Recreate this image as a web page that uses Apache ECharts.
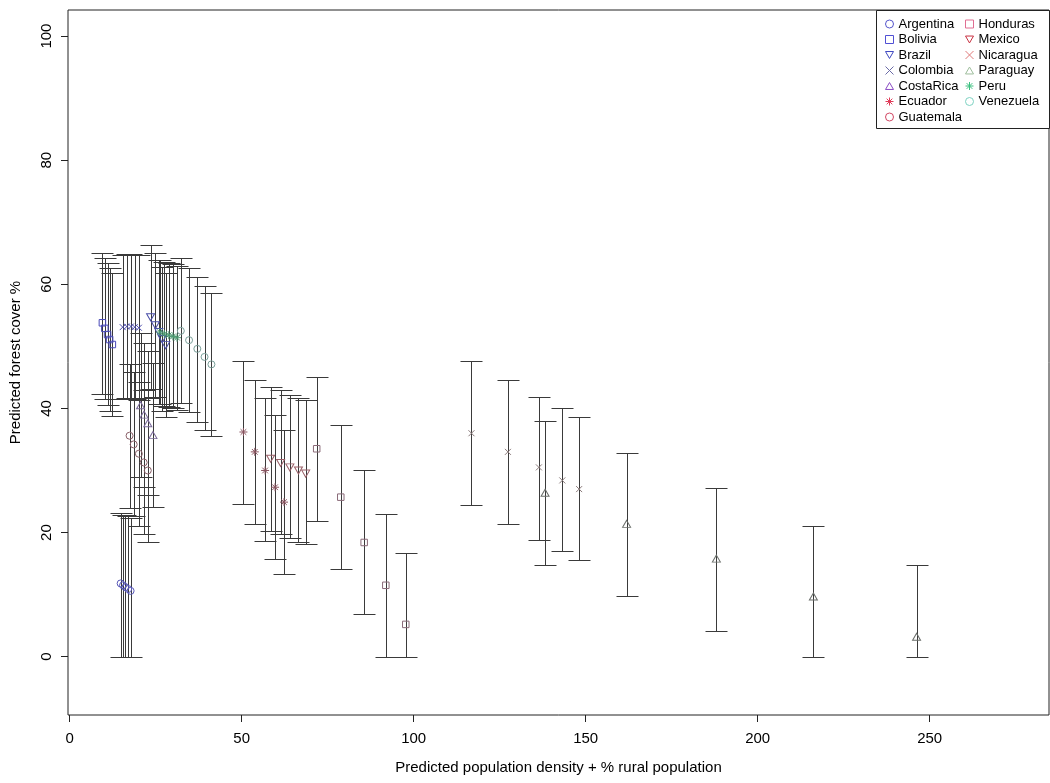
<!DOCTYPE html>
<html>
<head>
<meta charset="utf-8">
<script src="https://cdn.jsdelivr.net/npm/echarts@6/dist/echarts.min.js"></script>
<style>
  html, body { margin: 0; padding: 0; background: #fff; }
  #chart { width: 1050px; height: 783px; }
</style>
</head>
<body>
<div id="chart"></div>
<script>
// Each row: [population index, predicted forest cover %, lower bound, upper bound]
const argentina = [[14.8, 11.8, 0, 23.2], [15.5, 11.5, 0, 22.9], [16.2, 11.2, 0, 22.8], [17.0, 10.9, 0, 22.6], [17.7, 10.6, 0, 22.4]];
const bolivia   = [[9.5, 53.8, 42.3, 65.1], [10.2, 52.9, 41.5, 64.3], [11.0, 51.9, 40.5, 63.4], [11.6, 51.1, 39.6, 62.6], [12.4, 50.3, 38.8, 61.9]];
const brazil    = [[23.5, 54.7, 43.1, 66.3], [24.9, 53.4, 41.8, 65.0], [25.9, 52.3, 40.7, 63.9], [26.9, 51.2, 39.6, 62.8], [27.9, 50.2, 38.6, 61.8]];
const colombia  = [[15.4, 53.1, 41.5, 64.8], [16.6, 53.2, 41.6, 64.9], [17.8, 53.2, 41.6, 64.9], [18.9, 53.1, 41.5, 64.8], [20.1, 53.0, 41.4, 64.7]];
const costaRica = [[20.6, 40.5, 28.9, 52.1], [21.6, 39.0, 27.4, 50.6], [22.7, 37.6, 26.0, 49.2], [24.2, 35.7, 24.1, 47.3]];
const ecuador   = [[50.5, 36.2, 24.6, 47.7], [53.8, 33.0, 21.4, 44.5], [56.8, 30.0, 18.7, 41.6], [59.7, 27.3, 15.8, 38.9], [62.3, 24.9, 13.4, 36.6]];
const guatemala = [[17.4, 35.6, 24.0, 47.2], [18.6, 34.2, 22.6, 45.8], [20.1, 32.7, 21.1, 44.3], [21.5, 31.3, 19.7, 42.9], [22.7, 30.0, 18.4, 41.6]];
const honduras  = [[71.8, 33.5, 21.9, 45.1], [78.8, 25.7, 14.1, 37.3], [85.6, 18.4, 6.8, 30.0], [91.9, 11.5, 0, 23.0], [97.7, 5.2, 0, 16.7]];
const mexico    = [[58.4, 31.9, 20.3, 43.4], [61.3, 31.2, 19.7, 42.9], [64.0, 30.5, 19.1, 42.2], [66.5, 30.0, 18.5, 41.6], [68.6, 29.5, 18.1, 41.3]];
const nicaragua = [[116.8, 36.0, 24.5, 47.6], [127.4, 33.0, 21.4, 44.5], [136.4, 30.5, 18.8, 41.9], [143.2, 28.4, 17.0, 40.0], [148.1, 27.0, 15.6, 38.6]];
const paraguay  = [[138.2, 26.4, 14.8, 38.0], [161.9, 21.4, 9.7, 32.8], [188.0, 15.8, 4.1, 27.2], [216.2, 9.7, 0, 21.1], [246.2, 3.2, 0, 14.7]];
const peru      = [[26.2, 52.3, 40.7, 63.9], [27.5, 52.0, 40.4, 63.6], [28.8, 51.8, 40.2, 63.4], [30.0, 51.6, 40.0, 63.2], [31.2, 51.4, 39.8, 63.0]];
const venezuela = [[32.3, 52.5, 40.8, 64.2], [34.7, 51.0, 39.4, 62.6], [37.1, 49.6, 37.8, 61.2], [39.2, 48.3, 36.5, 59.8], [41.2, 47.1, 35.5, 58.6]];

const countryNames = ['Argentina', 'Bolivia', 'Brazil', 'Colombia', 'CostaRica', 'Ecuador', 'Guatemala',
                      'Honduras', 'Mexico', 'Nicaragua', 'Paraguay', 'Peru', 'Venezuela'];
const countryRows = [argentina, bolivia, brazil, colombia, costaRica, ecuador, guatemala,
                     honduras, mexico, nicaragua, paraguay, peru, venezuela];

const xTicks = [0, 50, 100, 150, 200, 250];
const yTicks = [0, 20, 40, 60, 80, 100];
const xTitle = 'Predicted population density + % rural population';
const yTitle = 'Predicted forest cover %';

// Marker shapes cycle: circle, square, down-triangle, cross, up-triangle, asterisk
const SHAPES = {
  circle: { symbol: 'circle', size: 7 },
  square: { symbol: 'rect', size: 6.5 },
  down:   { symbol: 'path://M0,0L10,0L5,8.66Z', size: [8, 7] },
  cross:  { symbol: 'path://M0,0L10,10M10,0L0,10', size: 6 },
  up:     { symbol: 'path://M5,0L10,8.66L0,8.66Z', size: [8, 7] },
  star:   { symbol: 'path://M5,0L5,10M0,5L10,5M1.46,1.46L8.54,8.54M8.54,1.46L1.46,8.54', size: 8 }
};
const shapeCycle = ['circle', 'square', 'down', 'cross', 'up', 'star'];
// key colours (legend) and the softer tones the markers take inside the plot
const keyColors  = ['#5656cc', '#5050d4', '#3c46c0', '#6a6aa6', '#8a4cc4', '#e03c5a', '#d24864',
                    '#e06e92', '#c83040', '#e07a7a', '#9ebe9c', '#3cc080', '#7ed2c2'];
const markColors = ['#5858b8', '#4a4ab8', '#4a4fa8', '#4c4cac', '#7a6a9a', '#8a5560', '#8a6068',
                    '#8a6a78', '#9a6068', '#8a7a7a', '#6a6e6a', '#4a9a70', '#7aa09a'];

const FONT = 'Liberation Sans, Arial, Helvetica, sans-serif';
const BAR_COLOR = '#3a3a3a';
const CAP_HALF = 11;

const scatterSeries = countryNames.map((name, i) => {
  const shape = SHAPES[shapeCycle[i % shapeCycle.length]];
  return {
    type: 'scatter',
    name: name,
    data: countryRows[i].map(r => [r[0], r[1]]),
    symbol: shape.symbol,
    symbolSize: shape.size,
    itemStyle: { color: 'rgba(0,0,0,0)', borderColor: markColors[i], borderWidth: 1, opacity: 1 },
    emphasis: { disabled: true },
    silent: true,
    z: 3
  };
});

const intervalRows = [];
countryRows.forEach(rows => rows.forEach(r => intervalRows.push([r[0], r[2], r[3]])));

const intervalSeries = {
  type: 'custom',
  name: 'interval',
  data: intervalRows,
  encode: { x: 0, y: [1, 2] },
  silent: true,
  z: 2,
  renderItem: function (params, api) {
    const x = api.value(0);
    const pLo = api.coord([x, api.value(1)]);
    const pHi = api.coord([x, api.value(2)]);
    const cx = Math.round(pLo[0]) + 0.5;
    const yLo = Math.round(pLo[1]) + 0.5;
    const yHi = Math.round(pHi[1]) + 0.5;
    const st = { stroke: BAR_COLOR, lineWidth: 1 };
    return {
      type: 'group',
      children: [
        { type: 'line', shape: { x1: cx, y1: yLo, x2: cx, y2: yHi }, style: st },
        { type: 'line', shape: { x1: cx - CAP_HALF, y1: yHi, x2: cx + CAP_HALF, y2: yHi }, style: st },
        { type: 'line', shape: { x1: cx - CAP_HALF, y1: yLo, x2: cx + CAP_HALF, y2: yLo }, style: st }
      ]
    };
  }
};

function legendItems(from, to) {
  return countryNames.slice(from, to).map((name, k) => ({
    name: name,
    itemStyle: { color: 'rgba(0,0,0,0)', borderColor: keyColors[from + k], borderWidth: 1 }
  }));
}

const legendCommon = {
  orient: 'vertical',
  top: 16.5,
  padding: 0,
  itemWidth: 8,
  itemHeight: 8,
  itemGap: 0.5,
  selectedMode: false,
  itemStyle: { borderWidth: 1 },
  textStyle: { fontFamily: FONT, fontSize: 13, color: '#000', lineHeight: 15 },
  z: 6
};

const chart = echarts.init(document.getElementById('chart'), null, { renderer: 'canvas' });
chart.setOption({
  animation: false,
  backgroundColor: '#fff',
  grid: {
    left: 68, right: 1, top: 10, bottom: 68,
    show: true, borderColor: '#222', borderWidth: 1, backgroundColor: 'transparent'
  },
  xAxis: {
    type: 'value',
    min: -0.5, max: 284.7,
    axisLine: { show: false, onZero: false },
    splitLine: { show: false },
    axisTick: { show: true, customValues: xTicks, length: 7, lineStyle: { color: '#222' } },
    axisLabel: { customValues: xTicks, margin: 16, fontFamily: FONT, fontSize: 15, color: '#000' },
    name: xTitle,
    nameLocation: 'middle',
    nameGap: 45,
    nameTextStyle: { fontFamily: FONT, fontSize: 15, color: '#000' }
  },
  yAxis: {
    type: 'value',
    min: -9.4, max: 104.2,
    axisLine: { show: false, onZero: false },
    splitLine: { show: false },
    axisTick: { show: true, customValues: yTicks, length: 7, lineStyle: { color: '#222' } },
    axisLabel: { customValues: yTicks, rotate: 90, margin: 14, fontFamily: FONT, fontSize: 15, color: '#000' },
    name: yTitle,
    nameLocation: 'middle',
    nameGap: 45,
    nameRotate: 90,
    nameTextStyle: { fontFamily: FONT, fontSize: 15, color: '#000' }
  },
  legend: [
    Object.assign({}, legendCommon, { data: legendItems(0, 7), left: 885 }),
    Object.assign({}, legendCommon, { data: legendItems(7, 13), left: 965 })
  ],
  graphic: [{
    type: 'rect',
    z: 5,
    shape: { x: 876.5, y: 10.5, width: 173, height: 118 },
    style: { fill: '#fff', stroke: '#222', lineWidth: 1 }
  }],
  series: [intervalSeries].concat(scatterSeries)
});
</script>
</body>
</html>
